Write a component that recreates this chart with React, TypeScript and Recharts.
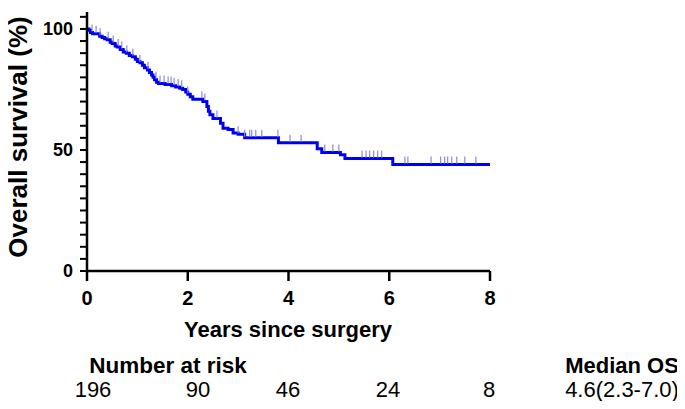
import { ComposedChart, Line, Scatter, XAxis, YAxis } from 'recharts';

// Kaplan-Meier steps (years, survival %)
const stepYears = [
  0, 0.04, 0.07, 0.11, 0.25, 0.3, 0.35, 0.4, 0.46, 0.5, 0.56, 0.6, 0.66, 0.72, 0.78, 0.84, 0.9, 0.96,
  1.0, 1.05, 1.1, 1.14, 1.2, 1.24, 1.28, 1.31, 1.34, 1.38, 1.42, 1.55, 1.68, 1.76, 1.84, 1.9, 1.96,
  2.0, 2.05, 2.1, 2.3, 2.38, 2.41, 2.44, 2.5, 2.65, 2.7, 2.8, 2.9, 3.0, 3.13, 3.8, 4.57, 4.66, 5.03,
  5.12, 6.07, 8,
];
const stepSurvival = [
  100, 99.5, 98.5, 98, 97, 96.5, 96, 95.5, 94.5, 94, 93, 92.5, 91.5, 90.5, 90, 89, 88.5, 87.5,
  86.5, 86, 85, 84, 83, 82, 81, 80, 79, 78, 77.5, 77, 76.5, 76, 75.5, 75, 74,
  73, 72, 71, 70, 68, 66, 64.5, 63, 61, 59, 58.5, 57, 56.5, 55, 53, 50.5, 49, 48,
  46.5, 44, 44,
];

// censored observations (years)
const censorYears = [
  0.1, 0.18, 0.26, 0.42, 0.52, 0.62, 0.69, 0.79, 0.91, 1.05, 1.21, 1.37, 1.45, 1.53, 1.61, 1.67,
  1.73, 1.81, 1.88, 2.0, 2.28, 2.34, 2.58, 3.0, 3.13, 3.23, 3.27, 3.35, 3.47, 3.79, 4.03, 4.25,
  4.72, 4.88, 5.0, 5.46, 5.54, 5.61, 5.69, 5.77, 5.85, 6.31, 6.37, 6.83, 7.02, 7.1, 7.16, 7.24,
  7.34, 7.5, 7.72,
];

const xTicks = [0, 2, 4, 6, 8];
const yTicks = [0, 5, 10, 15, 20, 25, 30, 35, 40, 45, 50, 55, 60, 65, 70, 75, 80, 85, 90, 95, 100, 105];

const riskYears = [0, 2, 4, 6, 8];
const riskCounts = ['196', '90', '46', '24', '8'];
const medianOS = '4.6(2.3-7.0)';

const FONT = "Arial, 'Liberation Sans', Helvetica, sans-serif";
const BLUE = '#0000f0';

const curve = stepYears.map((t, i) => ({ t, s: stepSurvival[i] }));

const survivalAt = (t: number) => {
  let s = stepSurvival[0];
  for (let i = 0; i < stepYears.length; i++) {
    if (stepYears[i] <= t) s = stepSurvival[i];
  }
  return s;
};

const censors = censorYears.map((t) => ({ t, s: survivalAt(t) }));

const CensorMark = (props: any) => {
  const { cx, cy } = props;
  if (cx == null || cy == null) return null;
  return <line x1={cx} x2={cx} y1={cy - 8} y2={cy - 1} stroke="#8a8ae0" strokeWidth={1.2} />;
};

// risk table label x positions (overlay px, overlay starts at page x=0)
const riskX = [93, 198, 288, 388, 489];

const App = () => {
  return (
    <div style={{ position: 'relative', width: 669, height: 393, fontFamily: FONT }}>
      <ComposedChart
        width={669}
        height={340}
        margin={{ top: 4, right: 187, left: 0, bottom: 0 }}
      >
        <XAxis
          type="number"
          dataKey="t"
          domain={[0, 8]}
          ticks={xTicks}
          allowDuplicatedCategory={false}
          height={77}
          tickSize={10}
          tickMargin={10}
          axisLine={{ stroke: '#000', strokeWidth: 2.5 }}
          tickLine={{ stroke: '#000', strokeWidth: 2.5 }}
          tick={{ fill: '#000', fontSize: 20, fontWeight: 700, fontFamily: FONT }}
        />
        <YAxis
          type="number"
          dataKey="s"
          domain={[0, 107]}
          ticks={yTicks}
          interval={0}
          width={79}
          tickSize={7}
          tickMargin={7}
          tickFormatter={(v: number) => (v % 50 === 0 ? String(v) : '')}
          axisLine={{ stroke: '#000', strokeWidth: 2.5 }}
          tickLine={{ stroke: '#000', strokeWidth: 2 }}
          tick={{ fill: '#000', fontSize: 18, fontWeight: 700, fontFamily: FONT }}
        />
        <Scatter data={censors} dataKey="s" shape={<CensorMark />} isAnimationActive={false} />
        <Line
          data={curve}
          dataKey="s"
          type="stepAfter"
          stroke={BLUE}
          strokeWidth={3}
          dot={false}
          isAnimationActive={false}
        />
      </ComposedChart>
      {/* overlay in page coordinates: shifted back by the 8px body margin */}
      <svg
        width={685}
        height={401}
        style={{ position: 'absolute', left: -8, top: -8, pointerEvents: 'none', overflow: 'visible' }}
        fontFamily={FONT}
      >
        <text
          x={27}
          y={137}
          transform="rotate(-90, 27, 137)"
          textAnchor="middle"
          fontSize={26}
          fontWeight={700}
          fill="#000"
        >
          Overall survival (%)
        </text>
        <text x={288} y={337} textAnchor="middle" fontSize={22} fontWeight={700} fill="#000">
          Years since surgery
        </text>
        <text x={168} y={373} textAnchor="middle" fontSize={22.5} fontWeight={700} fill="#000">
          Number at risk
        </text>
        <text x={622} y={373} textAnchor="middle" fontSize={22} fontWeight={700} fill="#000">
          Median OS
        </text>
        {riskYears.map((y, i) => (
          <text key={y} x={riskX[i]} y={397} textAnchor="middle" fontSize={22} fill="#000">
            {riskCounts[i]}
          </text>
        ))}
        <text x={622} y={397} textAnchor="middle" fontSize={22} fill="#000">
          {medianOS}
        </text>
      </svg>
    </div>
  );
};

export default App;
